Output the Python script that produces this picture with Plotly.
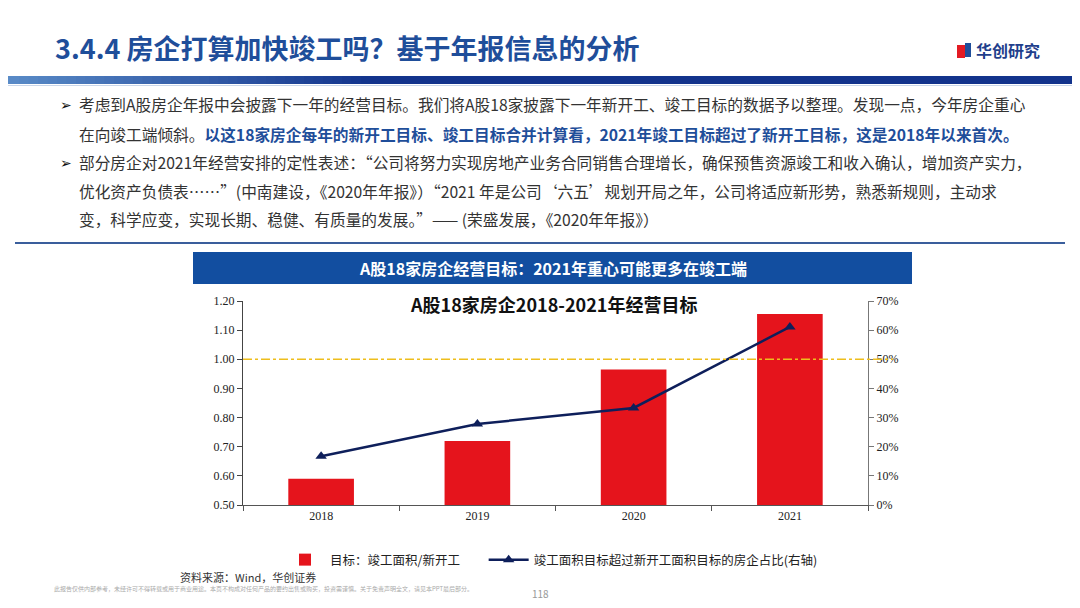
import plotly.graph_objects as go

# data
years = ["2018", "2019", "2020", "2021"]
ratio_target = [0.59, 0.72, 0.965, 1.155]           # 竣工面积/新开工
share_over = [0.167, 0.278, 0.333, 0.611]            # 竣工目标超过新开工目标的房企占比
left_ticks = [0.5, 0.6, 0.7, 0.8, 0.9, 1.0, 1.1, 1.2]
right_ticks = [0, 0.1, 0.2, 0.3, 0.4, 0.5, 0.6, 0.7]
ref_level = 1.0

W, H = 1080, 608
OFF = 8  # page body margin
BLUE = "#1F4E9A"
SERIF = "Liberation Serif, Times New Roman, serif"
CJK = "Noto Sans CJK SC, sans-serif"


def px(x):
    return (x - OFF) / W


def py(y):
    return 1 - (y - OFF) / H


fig = go.Figure()

fig.add_trace(go.Bar(
    x=years, y=ratio_target, name="目标：竣工面积/新开工\u2003\u2002",
    marker=dict(color="#E5141C", line=dict(width=0)), width=0.42,
    yaxis="y",
))
fig.add_trace(go.Scatter(
    x=years, y=share_over, name="竣工面积目标超过新开工面积目标的房企占比(右轴)",
    mode="lines+markers", yaxis="y2",
    line=dict(color="#0E1F5B", width=2.5),
    marker=dict(symbol="triangle-up", size=10, color="#0E1F5B"),
))

x_dom = [px(243), px(868)]
y_dom = [py(505), py(301)]

fig.update_layout(
    width=W, height=H,
    margin=dict(l=0, r=0, t=0, b=0),
    paper_bgcolor="white", plot_bgcolor="white",
    showlegend=True,
    legend=dict(orientation="h", x=px(280), y=py(545), xanchor="left", yanchor="top",
                font=dict(family=CJK, size=12.5, color="#222"),
                itemwidth=40, tracegroupgap=0, bgcolor="rgba(0,0,0,0)"),
    xaxis=dict(domain=x_dom, type="category", showline=True, linecolor="#555",
               linewidth=1, ticks="outside", tickson="boundaries", ticklen=5,
               tickcolor="#555", showgrid=False, automargin=False,
               tickfont=dict(family=SERIF, size=12, color="#222")),
    yaxis=dict(domain=y_dom, range=[0.5, 1.2], tickvals=left_ticks,
               tickformat=".2f", showline=True, linecolor="#444", linewidth=1,
               ticks="outside", ticklen=5, tickcolor="#444", showgrid=False,
               zeroline=False, automargin=False,
               tickfont=dict(family=SERIF, size=12, color="#222")),
    yaxis2=dict(overlaying="y", side="right", range=[0, 0.7], tickvals=right_ticks,
                tickformat=".0%", showline=True, linecolor="#777", linewidth=1,
                ticks="outside", ticklen=5, tickcolor="#777", showgrid=False,
                zeroline=False, anchor="x", automargin=False,
                tickfont=dict(family=SERIF, size=12, color="#222")),
    bargap=0.58,
)

shapes = []
# gradient header bar
n = 40
for i in range(n):
    x0 = i * 380 / n
    t = i / (n - 1)
    r = int(0x5a + (0x12 - 0x5a) * t)
    g = int(0x8c + (0x33 - 0x8c) * t)
    b = int(0xc8 + (0x8c - 0xc8) * t)
    shapes.append(dict(type="rect", xref="paper", yref="paper",
                       x0=px(x0), x1=px(x0 + 380 / n + 1), y0=py(84), y1=py(76),
                       fillcolor=f"rgb({r},{g},{b})", line=dict(width=0), layer="below"))
shapes.append(dict(type="rect", xref="paper", yref="paper", x0=px(380), x1=1,
                   y0=py(84), y1=py(76), fillcolor="#12338C", line=dict(width=0)))
shapes.append(dict(type="line", xref="paper", yref="paper", x0=0, x1=1,
                   y0=py(85.5), y1=py(85.5), line=dict(color="#C9D6EA", width=1)))
# logo cube
shapes.append(dict(type="rect", xref="paper", yref="paper", x0=px(957), x1=px(965),
                   y0=py(58), y1=py(45), fillcolor="#E31B23", line=dict(width=0)))
shapes.append(dict(type="rect", xref="paper", yref="paper", x0=px(965), x1=px(971),
                   y0=py(57), y1=py(43), fillcolor="#1F4E9A", line=dict(width=0)))
# separator under text
shapes.append(dict(type="line", xref="paper", yref="paper", x0=px(15), x1=px(1065),
                   y0=py(243), y1=py(243), line=dict(color="#3A5E9C", width=2)))
# chart banner
shapes.append(dict(type="rect", xref="paper", yref="paper", x0=px(193), x1=px(912),
                   y0=py(284), y1=py(252), fillcolor="#124EA0", line=dict(width=0)))
# reference line at 1.00 / 50%
shapes.append(dict(type="line", xref="x domain", yref="y", x0=0, x1=1.04,
                   y0=ref_level, y1=ref_level,
                   line=dict(color="#EEBE1C", width=1.5, dash="dashdot")))
fig.update_layout(shapes=shapes)

ann = []
ann.append(dict(text="<b>3.4.4 房企打算加快竣工吗？基于年报信息的分析</b>",
                x=px(53), y=py(47), xanchor="left", yanchor="middle",
                font=dict(family=CJK, size=27, color=BLUE)))
ann.append(dict(text="<b>华创研究</b>", x=px(974), y=py(50), xanchor="left", yanchor="middle",
                font=dict(family=CJK, size=16, color="#1F3F8C")))

body = "#333333"
lines = [
    (105, "考虑到A股房企年报中会披露下一年的经营目标。我们将A股18家披露下一年新开工、竣工目标的数据予以整理。发现一点，今年房企重心", True),
    (134, "在向竣工端倾斜。<b><span style='color:#1F4E9A'>以这18家房企每年的新开工目标、竣工目标合并计算看，2021年竣工目标超过了新开工目标，这是2018年以来首次。</span></b>", False),
    (163, "部分房企对2021年经营安排的定性表述：“公司将努力实现房地产业务合同销售合理增长，确保预售资源竣工和收入确认，增加资产实力，", True),
    (191, "优化资产负债表……”(中南建设，《2020年年报》）“2021 年是公司‘六五’规划开局之年，公司将适应新形势，熟悉新规则，主动求", False),
    (220, "变，科学应变，实现长期、稳健、有质量的发展。”—— (荣盛发展，《2020年年报》）", False),
]
for y, txt, bullet in lines:
    if bullet:
        ann.append(dict(text="<b>➢</b>", x=px(58), y=py(y), xanchor="left", yanchor="middle",
                        font=dict(family="DejaVu Sans", size=14, color="#111")))
    ann.append(dict(text=txt, x=px(77), y=py(y), xanchor="left", yanchor="middle",
                    font=dict(family=CJK, size=15.7, color=body)))

ann.append(dict(text="<b>A股18家房企经营目标：2021年重心可能更多在竣工端</b>",
                x=px(553), y=py(268), xanchor="center", yanchor="middle",
                font=dict(family=CJK, size=16, color="white")))
ann.append(dict(text="<b>A股18家房企2018-2021年经营目标</b>",
                x=px(553), y=py(304), xanchor="center", yanchor="middle",
                font=dict(family=CJK, size=18, color="#111")))
ann.append(dict(text="资料来源：Wind，华创证券", x=px(178), y=py(577), xanchor="left",
                yanchor="middle", font=dict(family=CJK, size=11, color="#333")))
ann.append(dict(text="此报告仅供内部参考，未经许可不得转载或用于商业用途。本页不构成对任何产品的要约出售或购买，投资需谨慎。关于免责声明全文，请见本PPT最后部分。",
                x=px(52), y=py(588), xanchor="left", yanchor="middle",
                font=dict(family=CJK, size=6, color="#AAAAAA")))
ann.append(dict(text="118", x=px(540), y=py(593), xanchor="center", yanchor="middle",
                font=dict(family=CJK, size=10, color="#999")))

for a in ann:
    a.update(xref="paper", yref="paper", showarrow=False)
fig.update_layout(annotations=ann)

fig.write_html("out.html")
